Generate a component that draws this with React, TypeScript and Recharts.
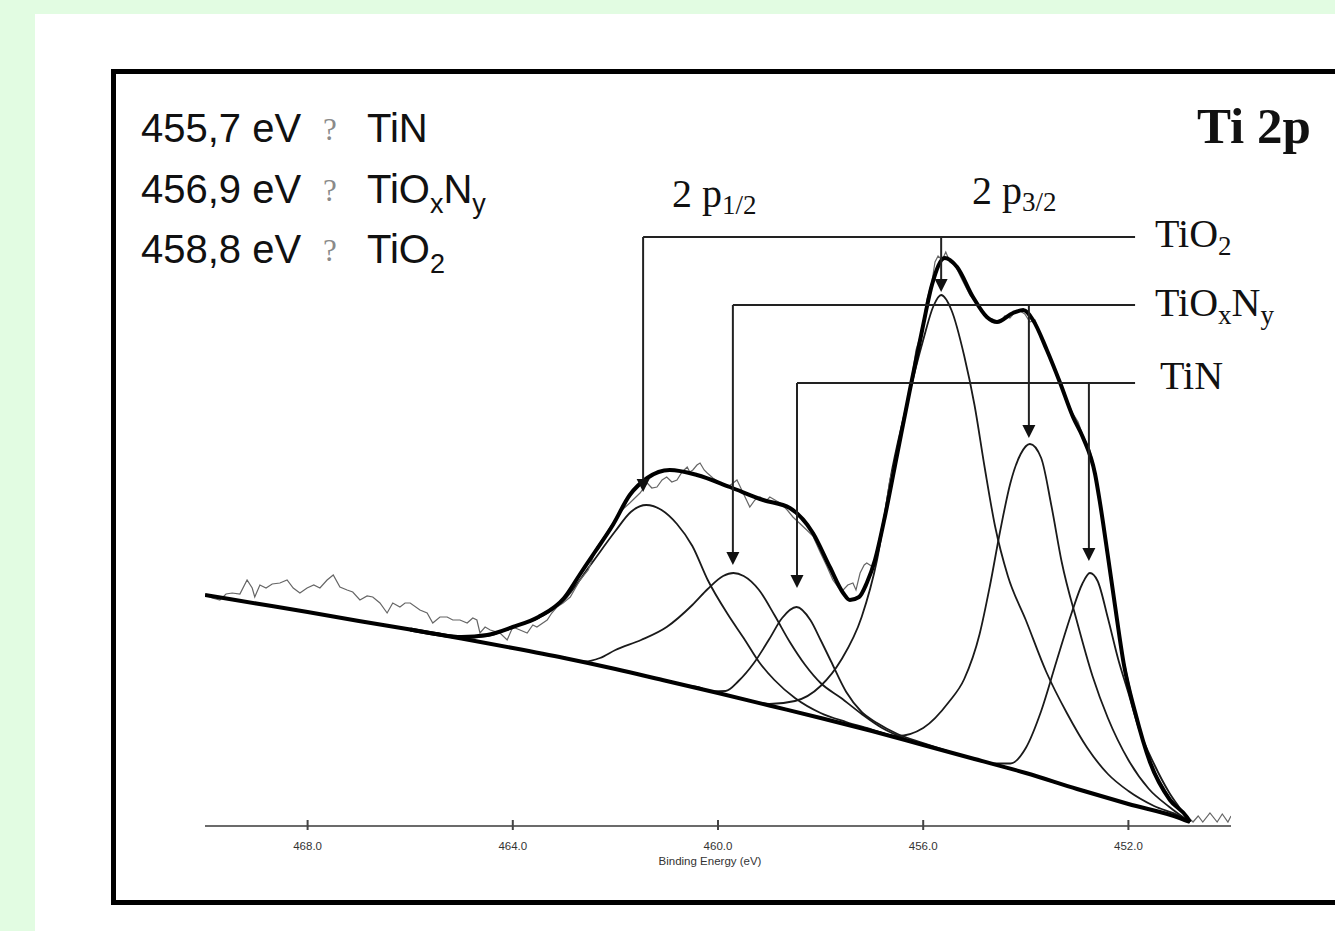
import { ComposedChart, Line, XAxis, YAxis, ReferenceLine, ReferenceDot } from "recharts";

type Pt = [number, number];

// binding energy (eV), intensity (a.u.)
const background: Pt[] = [[470, 231], [469, 222.5], [468, 214], [467, 205], [466, 196.5], [465, 187.5], [464, 178], [463, 168], [462, 157], [461, 145], [460, 133], [459, 120.5], [458, 108], [457, 95], [456, 81], [455, 67], [454, 53], [453, 37], [452, 22], [451, 8], [450.8, 4]];

const envelope: Pt[] = [[466, 196.5], [465.5, 192], [465, 189], [464.5, 191], [464, 199], [463.5, 209], [463, 228], [462.7, 251], [462.4, 274], [462.05, 301], [461.72, 331], [461.38, 348], [460.94, 356], [460.41, 351], [459.77, 339], [459.12, 326], [458.6, 318], [458.15, 293], [457.82, 259], [457.56, 233], [457.43, 226], [457.25, 229], [457.1, 243], [456.94, 266], [456.74, 311], [456.51, 371], [456.26, 436], [456.02, 496], [455.83, 541], [455.58, 568], [455.34, 559], [455.03, 529], [454.76, 509], [454.56, 504], [454.25, 513], [454.05, 516], [453.86, 506], [453.59, 476], [453.33, 443], [453.08, 409], [452.89, 389], [452.65, 352], [452.55, 322], [452.4, 270], [452.26, 220], [452.09, 162], [451.87, 114], [451.58, 64], [451.19, 26], [450.86, 9], [450.8, 4]];

const rawCounts: Pt[] = [[470, 231], [469.86, 228], [469.71, 226], [469.59, 232], [469.47, 233], [469.32, 232], [469.18, 246], [469.08, 238], [469.03, 229], [468.93, 241], [468.81, 238], [468.69, 242], [468.54, 243], [468.4, 246], [468.28, 238], [468.15, 233], [468.01, 238], [467.88, 241], [467.76, 238], [467.62, 246], [467.5, 251], [467.37, 239], [467.23, 236], [467.12, 234], [466.98, 226], [466.84, 230], [466.73, 229], [466.59, 223], [466.45, 213], [466.34, 223], [466.2, 219], [466.1, 223], [466, 223], [465.81, 216], [465.67, 213], [465.56, 203], [465.42, 209], [465.28, 209], [465.17, 206], [465.03, 206], [464.89, 203], [464.78, 208], [464.7, 206], [464.64, 193], [464.54, 199], [464.44, 196], [464.25, 193], [464.11, 186], [464, 199], [463.86, 196], [463.72, 193], [463.61, 201], [463.53, 199], [463.33, 206], [463.24, 213], [463.14, 219], [463.02, 223], [462.88, 229], [462.69, 246], [462.53, 256], [462.36, 279], [462.2, 291], [462.05, 303], [461.87, 316], [461.72, 323], [461.52, 333], [461.38, 343], [461.29, 338], [461.19, 339], [461.09, 346], [461, 349], [460.9, 344], [460.8, 346], [460.7, 354], [460.6, 359], [460.55, 354], [460.49, 356], [460.41, 361], [460.35, 363], [460.27, 356], [460.21, 353], [460.1, 348], [459.96, 343], [459.82, 339], [459.73, 342], [459.63, 346], [459.51, 333], [459.38, 319], [459.28, 326], [459.18, 329], [459.08, 324], [458.99, 329], [458.89, 326], [458.79, 323], [458.65, 316], [458.54, 309], [458.27, 296], [458.15, 290], [458.01, 274], [457.88, 260], [457.76, 246], [457.66, 239], [457.56, 236], [457.47, 241], [457.37, 243], [457.31, 236], [457.23, 253], [457.15, 261], [457.1, 263], [456.98, 259], [456.88, 281], [456.74, 316], [456.65, 346], [456.51, 371], [456.39, 406], [456.26, 436], [456.14, 476], [456.02, 496], [455.93, 526], [455.83, 544], [455.77, 564], [455.71, 570], [455.63, 566], [455.56, 574], [455.48, 564], [455.38, 561], [455.24, 546], [455.09, 531], [454.93, 521], [454.8, 511], [454.7, 508], [454.6, 506], [454.5, 504], [454.41, 510], [454.31, 508], [454.21, 514], [454.11, 515], [454.02, 512], [453.92, 504], [453.82, 506], [453.72, 491], [453.59, 478], [453.47, 461], [453.33, 443], [453.21, 428], [453.1, 414], [452.98, 404], [452.89, 391], [452.75, 376], [452.65, 356], [452.55, 324], [452.46, 292], [452.36, 252], [452.16, 182], [451.91, 124], [451.58, 62], [451.19, 28], [450.86, 10], [450.74, 4], [450.64, 10], [450.55, 4], [450.41, 13], [450.27, 4], [450.17, 12], [450.06, 4], [450, 10]];

// fitted components (drawn on top of the background)
const tio2Half: Pt[] = [[466.5, 201], [466, 196.5], [465.5, 192], [465, 188.5], [464.5, 190], [464, 199], [463.5, 208], [463, 226], [462.5, 260], [462, 295], [461.7, 314], [461.4, 321], [461.1, 316], [460.8, 302], [460.5, 280], [460.2, 246], [459.8, 211], [459.5, 188], [459.2, 164], [458.9, 146], [458.5, 128], [458, 113], [457.5, 104], [457, 96.5], [456.5, 88.5], [456, 81.5]];
const tioxnyHalf: Pt[] = [[463.5, 173], [463, 168.5], [462.6, 164.5], [462.3, 168], [462, 176], [461.5, 186], [461, 199], [460.5, 221], [460.2, 237], [459.9, 250], [459.7, 253], [459.5, 250], [459.2, 236], [458.9, 211], [458.6, 184], [458.3, 161], [458, 143], [457.6, 128], [457.2, 112], [456.8, 98], [456.4, 88.5], [456, 82]];
const tinHalf: Pt[] = [[461, 145], [460.7, 141.5], [460.4, 139], [460.1, 134.5], [459.85, 135], [459.6, 145], [459.3, 163], [459, 187], [458.75, 208], [458.47, 219], [458.2, 206], [458, 186], [457.8, 165], [457.5, 134], [457.2, 114], [456.9, 103], [456.5, 92], [456, 83], [455.5, 74.5]];
const tio2ThreeHalf: Pt[] = [[460.5, 139], [460, 133], [459.5, 127], [459, 122], [458.5, 125], [458, 140], [457.6, 166], [457.2, 209], [456.9, 266], [456.6, 358], [456.3, 426], [456, 486], [455.8, 520], [455.65, 531], [455.45, 516], [455.2, 470], [455, 421], [454.8, 358], [454.6, 300], [454.35, 250], [454, 206], [453.6, 154], [453.2, 113], [452.8, 78], [452.4, 52], [452, 35], [451.5, 20], [451, 10], [450.8, 4]];
const tioxnyThreeHalf: Pt[] = [[458, 108], [457.5, 101.5], [457, 95.5], [456.5, 90], [456, 98], [455.5, 124], [455.2, 147], [454.9, 192], [454.7, 240], [454.5, 295], [454.3, 343], [454.1, 372], [453.92, 382], [453.7, 368], [453.5, 320], [453.3, 264], [453, 204], [452.7, 150], [452.4, 108], [452, 66], [451.6, 37], [451.2, 19], [450.8, 4]];
const tinThreeHalf: Pt[] = [[456, 81], [455.5, 74], [455, 67.3], [454.6, 62.5], [454.3, 62.5], [454, 78], [453.7, 115], [453.4, 165], [453.1, 214], [452.9, 242], [452.75, 253], [452.6, 245], [452.4, 208], [452.2, 167], [452, 133], [451.8, 98], [451.5, 62], [451.2, 33], [451, 18], [450.8, 4]];

const components = [tio2Half, tioxnyHalf, tinHalf, tio2ThreeHalf, tioxnyThreeHalf, tinThreeHalf];

const xTicks = [468, 464, 460, 456, 452];

// peak assignment markers: species, leader level, 2p1/2 and 2p3/2 peak positions, arrow tips
const species = ["TiO_2", "TiO_xN_y", "TiN"];
const leaderLevel = [589, 521, 443];
const halfPeakBE = [461.46, 459.71, 458.46];
const halfTip = [334, 261, 238];
const threeHalfPeakBE = [455.65, 453.94, 452.77];
const threeHalfTip = [534, 388, 265];
const leaderEndBE = 451.87;

const legendEnergies = ["455,7", "456,9", "458,8"];
const legendSpecies = ["TiN", "TiO_xN_y", "TiO_2"];

const rows = (pts: Pt[]) => pts.map(([be, v]) => ({ be, v }));

function splitFormula(text: string) {
  const out: { s: string; sub: boolean }[] = [];
  for (let i = 0; i < text.length; i++) {
    if (text[i] === "_") {
      if (text[i + 1] === "{") {
        const end = text.indexOf("}", i);
        out.push({ s: text.slice(i + 2, end), sub: true });
        i = end;
      } else {
        out.push({ s: text[i + 1], sub: true });
        i++;
      }
    } else if (out.length && !out[out.length - 1].sub) {
      out[out.length - 1].s += text[i];
    } else {
      out.push({ s: text[i], sub: false });
    }
  }
  return out;
}

function Formula({ x, y, text, size, subSize, shift, family, weight = "normal" }: any) {
  let prevSub = false;
  return (
    <text x={x} y={y} fontFamily={family} fontSize={size} fontWeight={weight} fill="#111">
      {splitFormula(text).map((p, k) => {
        const dy = p.sub && !prevSub ? shift : !p.sub && prevSub ? -shift : 0;
        prevSub = p.sub;
        return (
          <tspan key={k} dy={dy} fontSize={p.sub ? subSize : size}>
            {p.s}
          </tspan>
        );
      })}
    </text>
  );
}

const AxisTick = (props: any) => {
  const { x, y, payload } = props;
  return (
    <g>
      <line x1={x} x2={x} y1={y - 6} y2={y + 4} stroke="#444" strokeWidth={2} />
      <text x={x} y={y + 24} textAnchor="middle" fontSize={11.5} fill="#333" fontFamily="Liberation Sans">
        {Number(payload.value).toFixed(1)}
      </text>
    </g>
  );
};

const Arrow = (props: any) => {
  const { cx, cy } = props;
  return <polygon points={`${cx - 6.5},${cy - 13} ${cx + 6.5},${cy - 13} ${cx},${cy}`} fill="#111" />;
};

export default function App() {
  const sans = "Liberation Sans, Arial, sans-serif";
  const serif = "Liberation Serif, Times New Roman, serif";
  return (
    <div style={{ position: "absolute", left: 0, top: 0, width: 1335, height: 931, background: "#e2fce2", overflow: "hidden" }}>
      <div style={{ position: "absolute", left: 35, top: 14, width: 1300, height: 917, background: "#fff" }} />
      <div style={{ position: "absolute", left: 111, top: 69, width: 1260, height: 826, border: "5px solid #000" }} />
      <div style={{ position: "absolute", left: 0, top: 0 }}>
        <ComposedChart width={1335} height={931} margin={{ top: 126, right: 104, bottom: 75, left: 205 }}>
          <XAxis
            type="number"
            dataKey="be"
            domain={[450, 470]}
            reversed
            ticks={xTicks}
            interval={0}
            allowDataOverflow
            height={30}
            tickSize={0}
            tickMargin={0}
            tickLine={false}
            axisLine={{ stroke: "#6b6b6b", strokeWidth: 2 }}
            tick={<AxisTick />}
          />
          <YAxis type="number" domain={[0, 700]} hide allowDataOverflow />
          {components.map((c, i) => (
            <Line key={i} data={rows(c)} dataKey="v" type="monotone" stroke="#1a1a1a" strokeWidth={1.8} dot={false} isAnimationActive={false} />
          ))}
          <Line data={rows(rawCounts)} dataKey="v" type="linear" stroke="#666" strokeWidth={1.2} dot={false} isAnimationActive={false} />
          <Line data={rows(background)} dataKey="v" type="monotone" stroke="#000" strokeWidth={4} dot={false} isAnimationActive={false} />
          <Line data={rows(envelope)} dataKey="v" type="monotone" stroke="#000" strokeWidth={4} dot={false} isAnimationActive={false} />
          {species.map((s, i) => (
            <ReferenceLine key={"h" + s} segment={[{ x: halfPeakBE[i], y: leaderLevel[i] }, { x: leaderEndBE, y: leaderLevel[i] }]} stroke="#222" strokeWidth={2} />
          ))}
          {species.map((s, i) => (
            <ReferenceLine key={"a" + s} segment={[{ x: halfPeakBE[i], y: leaderLevel[i] }, { x: halfPeakBE[i], y: halfTip[i] + 6 }]} stroke="#222" strokeWidth={2} />
          ))}
          {species.map((s, i) => (
            <ReferenceLine key={"b" + s} segment={[{ x: threeHalfPeakBE[i], y: leaderLevel[i] }, { x: threeHalfPeakBE[i], y: threeHalfTip[i] + 6 }]} stroke="#222" strokeWidth={2} />
          ))}
          {species.map((s, i) => (
            <ReferenceDot key={"c" + s} x={halfPeakBE[i]} y={halfTip[i]} r={1} shape={Arrow} />
          ))}
          {species.map((s, i) => (
            <ReferenceDot key={"d" + s} x={threeHalfPeakBE[i]} y={threeHalfTip[i]} r={1} shape={Arrow} />
          ))}
        </ComposedChart>
      </div>
      <svg width={1335} height={931} style={{ position: "absolute", left: 0, top: 0, pointerEvents: "none" }}>
        {legendEnergies.map((e, i) => (
          <g key={e}>
            <text x={141} y={142 + i * 60.5} fontFamily={sans} fontSize={40} fill="#111">
              {e} eV
            </text>
            <text x={323} y={140 + i * 60.5} fontFamily={serif} fontSize={31} fill="#8a8a8a">
              ?
            </text>
            <Formula x={367} y={142 + i * 60.5} text={legendSpecies[i]} size={40} subSize={27} shift={10} family={sans} />
          </g>
        ))}
        <Formula x={1197} y={143} text="Ti 2p" size={51} subSize={30} shift={8} family={serif} weight="bold" />
        <Formula x={672} y={207} text="2 p_{1/2}" size={40} subSize={27} shift={7} family={serif} />
        <Formula x={972} y={204} text="2 p_{3/2}" size={40} subSize={27} shift={7} family={serif} />
        {species.map((s, i) => (
          <Formula key={s} x={1155 + (i === 2 ? 5 : 0)} y={[247, 316, 389][i]} text={s} size={40} subSize={27} shift={8} family={serif} />
        ))}
        <text x={710} y={865} textAnchor="middle" fontFamily={sans} fontSize={11.5} fill="#333">
          Binding Energy (eV)
        </text>
      </svg>
    </div>
  );
}
